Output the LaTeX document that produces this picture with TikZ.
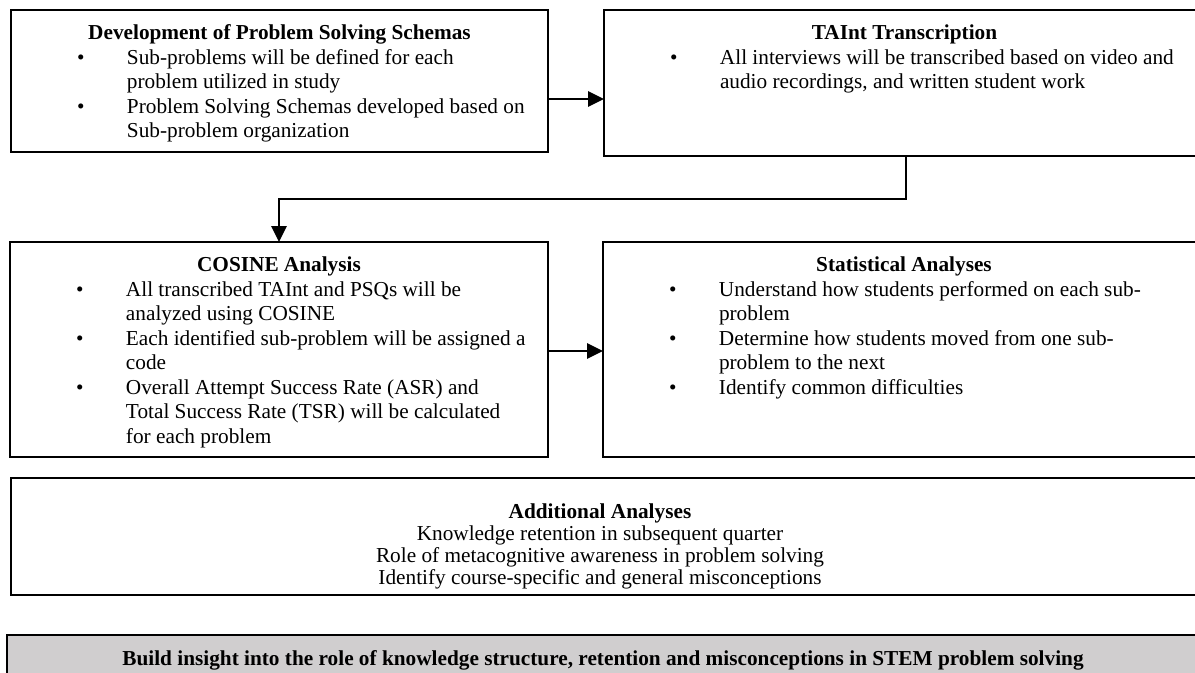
\documentclass[tikz,border=0pt]{standalone}
\usepackage{fontspec}
\setmainfont{Liberation Serif}
\usetikzlibrary{arrows.meta}
\newlength\pxu
\setlength\pxu{0.564pt}
\definecolor{summarygray}{RGB}{208,206,207}
\newcommand{\stagetext}[4]{\parbox[c][#2\pxu][t]{#1\pxu}{\fontsize{12}{13.8}\selectfont\vspace*{15\pxu}\centering\textbf{#3}\par\raggedright #4}}
\newcommand{\bul}[1]{\par\hangindent=116\pxu\hangafter=1\noindent\hbox to 116\pxu{\hspace*{66\pxu}\textbullet\hfil}#1}
\begin{document}
\begin{tikzpicture}[x=0.564pt, y=-0.564pt,
            stage/.style={draw=black, line width=1.1pt, anchor=north west, inner sep=0pt, outer sep=0pt},
            flow/.style={line width=1.3pt, -{Triangle[length=9pt, width=8.5pt]}}]
            \useasboundingbox (0,0) rectangle (1195,673);
            \clip (0,0) rectangle (1195,673);
            \node[stage] (schemas) at (11,10) {\stagetext{537}{142}{Development of Problem Solving Schemas}{%
                \bul{Sub-problems will be defined for each\newline problem utilized in study}%
                \bul{Problem Solving Schemas developed based on\newline Sub-problem organization}}};
            \node[stage] (transcription) at (604,10) {\stagetext{601}{146}{TAInt Transcription}{%
                \bul{All interviews will be transcribed based on video and\newline audio recordings, and written student work}}};
            \node[stage] (cosine) at (10,242) {\stagetext{538}{215}{COSINE Analysis}{%
                \bul{All transcribed TAInt and PSQs will be\newline analyzed using COSINE}%
                \bul{Each identified sub-problem will be assigned a\newline code}%
                \bul{Overall Attempt Success Rate (ASR) and\newline Total Success Rate (TSR) will be calculated\newline for each problem}}};
            \node[stage] (statistics) at (603,242) {\stagetext{602}{215}{Statistical Analyses}{%
                \bul{Understand how students performed on each sub-\newline problem}%
                \bul{Determine how students moved from one sub-\newline problem to the next}%
                \bul{Identify common difficulties}}};
            \node[stage] (additional) at (11,478) {\parbox[c][117\pxu][t]{1200\pxu}{\fontsize{12}{12.3}\selectfont\vspace*{26\pxu}\centering\advance\rightskip 22\pxu
                \textbf{Additional Analyses}\\ Knowledge retention in subsequent quarter\\ Role of metacognitive awareness in problem solving\\ Identify course-specific and general misconceptions}};
            \node[stage, fill=summarygray, minimum width=1200\pxu, minimum height=50\pxu, font=\fontsize{12}{13.8}\selectfont\bfseries] (insight) at (7,635)
                {Build insight into the role of knowledge structure, retention and misconceptions in STEM problem solving\hspace*{8\pxu}};
            \coordinate (row1) at (0,99);
            \coordinate (row2) at (0,351);
            \coordinate (drop) at (906,199);
            \coordinate (land) at (279,199);
            \draw[flow] (schemas.east |- row1) -- (transcription.west |- row1);
            \draw[flow] (transcription.south -| drop) -- (drop) -- (land) -- (cosine.north -| land);
            \draw[flow] (cosine.east |- row2) -- (statistics.west |- row2);
        \end{tikzpicture}
\end{document}
